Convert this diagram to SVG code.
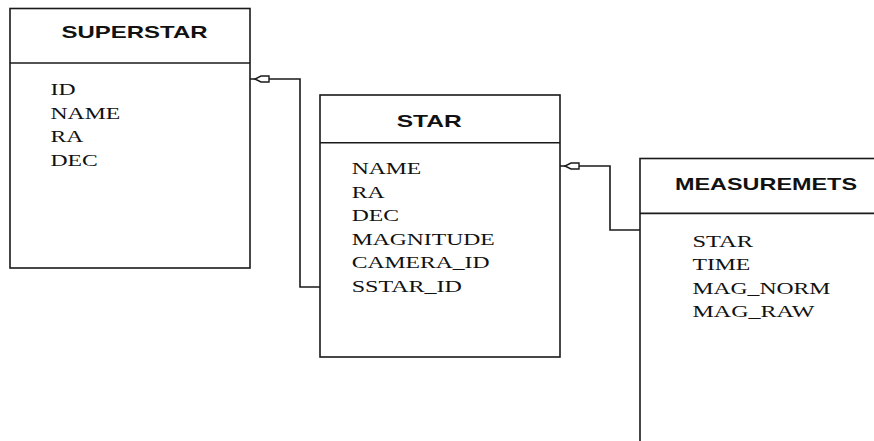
<svg xmlns="http://www.w3.org/2000/svg" width="874" height="441" viewBox="0 0 874 441">
<style>
.box{fill:none;stroke:#1a1a1a;stroke-width:1.6}
.div{stroke:#1a1a1a;stroke-width:1.6}
.title{font-family:"Liberation Sans",Arial,sans-serif;font-weight:bold;font-size:17px;fill:#111}
.item{font-family:"Liberation Serif","Times New Roman",serif;font-size:17px;fill:#111}
.conn{fill:none;stroke:#1a1a1a;stroke-width:1.6}
</style>
<defs>
<marker id="fk" markerUnits="userSpaceOnUse" viewBox="-21 -5 22 10" refX="0" refY="0" markerWidth="22" markerHeight="10" orient="auto" overflow="visible">
<polygon points="-5,0 -11,-3 -19,-3 -19,3 -11,3" fill="#fff" stroke="#1a1a1a" stroke-width="1.4"/>
</marker>
</defs>
<rect x="0" y="0" width="874" height="441" fill="#fff"/>
<g id="connectors">
<path class="conn" d="M320,287 H300 V79 H250" marker-end="url(#fk)"/>
<path class="conn" d="M640,230 H610 V166 H560" marker-end="url(#fk)"/>
</g>
<g id="superstar">
<rect class="box" x="10" y="8.5" width="240" height="259.5"/>
<line class="div" x1="10" y1="63" x2="250" y2="63"/>
<text class="title" x="61.5" y="38.3" textLength="146" lengthAdjust="spacingAndGlyphs">SUPERSTAR</text>
<text class="item" x="50.5" y="95" textLength="25" lengthAdjust="spacingAndGlyphs">ID</text>
<text class="item" x="50.5" y="118.5" textLength="69.6" lengthAdjust="spacingAndGlyphs">NAME</text>
<text class="item" x="50.5" y="142" textLength="32.8" lengthAdjust="spacingAndGlyphs">RA</text>
<text class="item" x="50.5" y="165.5" textLength="47.3" lengthAdjust="spacingAndGlyphs">DEC</text>
</g>
<g id="star">
<rect class="box" x="320" y="95" width="240" height="262"/>
<line class="div" x1="320" y1="142.7" x2="560" y2="142.7"/>
<text class="title" x="396.7" y="126.5" textLength="65" lengthAdjust="spacingAndGlyphs">STAR</text>
<text class="item" x="351.7" y="174" textLength="69.6" lengthAdjust="spacingAndGlyphs">NAME</text>
<text class="item" x="351.7" y="197.5" textLength="32.8" lengthAdjust="spacingAndGlyphs">RA</text>
<text class="item" x="351.7" y="221" textLength="47.3" lengthAdjust="spacingAndGlyphs">DEC</text>
<text class="item" x="351.7" y="244.5" textLength="143" lengthAdjust="spacingAndGlyphs">MAGNITUDE</text>
<text class="item" x="351.7" y="268" textLength="137.8" lengthAdjust="spacingAndGlyphs">CAMERA_ID</text>
<text class="item" x="351.7" y="291.5" textLength="110.3" lengthAdjust="spacingAndGlyphs">SSTAR_ID</text>
</g>
<g id="measuremets">
<rect class="box" x="640" y="158.5" width="300" height="400"/>
<line class="div" x1="640" y1="213.4" x2="874" y2="213.4"/>
<text class="title" x="675" y="190" textLength="182" lengthAdjust="spacingAndGlyphs">MEASUREMETS</text>
<text class="item" x="692.5" y="246.5" textLength="60.4" lengthAdjust="spacingAndGlyphs">STAR</text>
<text class="item" x="692.5" y="270" textLength="57.8" lengthAdjust="spacingAndGlyphs">TIME</text>
<text class="item" x="692.5" y="293.5" textLength="137.8" lengthAdjust="spacingAndGlyphs">MAG_NORM</text>
<text class="item" x="692.5" y="317" textLength="122" lengthAdjust="spacingAndGlyphs">MAG_RAW</text>
</g>
</svg>
